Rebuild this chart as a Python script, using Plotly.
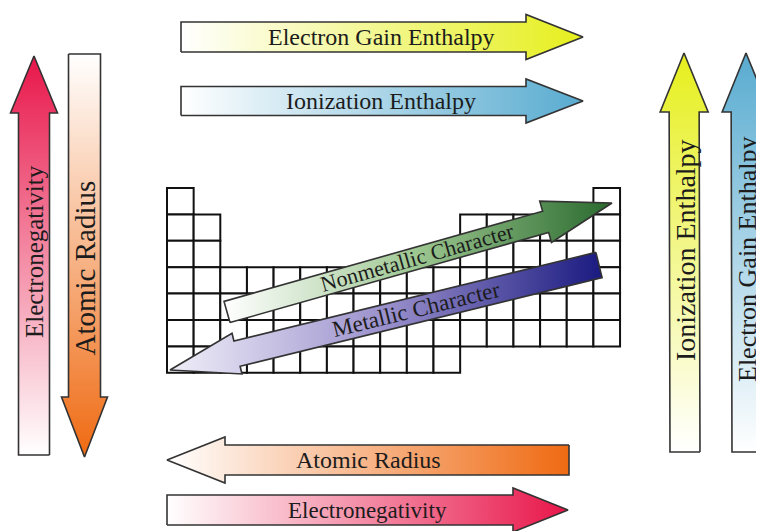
import math
import plotly.graph_objects as go

# ---------------- data ----------------
labels_top = ["Electron Gain Enthalpy", "Ionization Enthalpy"]
labels_left = ["Electronegativity", "Atomic Radius"]
labels_right = ["Ionization Enthalpy", "Electron Gain Enthalpy"]
labels_bottom = ["Atomic Radius", "Electronegativity"]
labels_diag = ["Nonmetallic Character", "Metallic Character"]

# periodic-table outline: filled columns (1-based) for each row
table_rows = [
    [1, 17],
    [1, 2, 12, 13, 14, 15, 16, 17],
    [1, 2, 12, 13, 14, 15, 16, 17],
    list(range(1, 18)),
    list(range(1, 18)),
    list(range(1, 18)),
    list(range(1, 12)),
]

# gradient colours
YELLOW = "#e6ef1c"
BLUE = "#58abd0"
RED = "#e8164a"
ORANGE = "#ef6a12"
GREEN = "#2a6a2e"
NAVY = "#1a1a80"

# ---------------- geometry (pixel space of the window) ----------------
W, H = 764, 531
PAGE = 8  # browser body margin
GX0, GY0, CW, CH = 167, 188, 26.65, 26.4
FONT = "Liberation Serif"
TXT = "#1c1c1c"


def arrow_pts(tail, tip, w, hw, hl):
    x0, y0 = tail
    x1, y1 = tip
    dx, dy = x1 - x0, y1 - y0
    L = math.hypot(dx, dy)
    ux, uy = dx / L, dy / L
    px, py = -uy, ux
    bx, by = x1 - ux * hl, y1 - uy * hl
    pts = [
        (x0 + px * w / 2, y0 + py * w / 2),
        (bx + px * w / 2, by + py * w / 2),
        (bx + px * hw / 2, by + py * hw / 2),
        (x1, y1),
        (bx - px * hw / 2, by - py * hw / 2),
        (bx - px * w / 2, by - py * w / 2),
        (x0 - px * w / 2, y0 - py * w / 2),
    ]
    pts.append(pts[0])
    return [p[0] for p in pts], [p[1] for p in pts]


fig = go.Figure()

# grid cells as shapes
for r, cols in enumerate(table_rows):
    for c in cols:
        fig.add_shape(
            type="rect", xref="x", yref="y",
            x0=GX0 + (c - 1) * CW, x1=GX0 + c * CW,
            y0=GY0 + r * CH, y1=GY0 + (r + 1) * CH,
            line=dict(color="#111111", width=2), fillcolor="white", layer="below",
        )

arrows = [
    # tail, tip, w, hw, hl, gradient type, colorscale
    ((181, 37), (583, 37), 30, 45, 57, "horizontal", [[0, "#ffffff"], [1, YELLOW]]),
    ((181, 101), (583, 101), 29, 44, 57, "horizontal", [[0, "#ffffff"], [1, BLUE]]),
    ((34, 455), (34, 56), 31, 47, 57, "vertical", [[0, "#ffffff"], [1, RED]]),
    ((84.5, 54), (84.5, 457), 32, 46, 60, "vertical", [[0, ORANGE], [1, "#ffffff"]]),
    ((685, 452), (684, 53), 30, 48, 59, "vertical", [[0, "#ffffff"], [1, YELLOW]]),
    ((747, 452), (746, 53), 30, 48, 59, "vertical", [[0, "#ffffff"], [1, BLUE]]),
    ((569, 460), (167, 460), 30, 46, 58, "horizontal", [[0, "#ffffff"], [1, ORANGE]]),
    ((167, 510), (568, 510), 30, 44, 55, "horizontal", [[0, "#ffffff"], [1, RED]]),
    ((227, 312), (612, 203), 22, 43, 69, "horizontal",
     [[0, "#ffffff"], [0.5, "#9cc690"], [1, GREEN]]),
    ((599, 265), (170, 370), 26, 42, 69, "horizontal",
     [[0, "#f0eef8"], [0.5, "#9a90cc"], [1, NAVY]]),
]

for tail, tip, w, hw, hl, gtype, cs in arrows:
    xs, ys = arrow_pts(tail, tip, w, hw, hl)
    fig.add_trace(go.Scatter(
        x=xs, y=ys, mode="lines", fill="toself",
        fillgradient=dict(type=gtype, colorscale=cs),
        line=dict(color="#333333", width=1.6),
        hoverinfo="skip",
    ))

texts = [
    (labels_top[0], 381, 37, 0, 24),
    (labels_top[1], 381, 101, 0, 24),
    (labels_left[0], 34, 252, -90, 25),
    (labels_left[1], 84.5, 268, -90, 29),
    (labels_right[0], 685, 250, -90, 28),
    (labels_right[1], 747, 260, -90, 26),
    (labels_bottom[0], 368, 460, 0, 24),
    (labels_bottom[1], 367, 510, 0, 23),
    (labels_diag[0], 417, 257, -15.8, 22),
    (labels_diag[1], 416, 309, -13.8, 23),
]
for t, x, y, ang, sz in texts:
    fig.add_annotation(
        x=x, y=y, xref="x", yref="y", text=t, showarrow=False,
        textangle=ang, font=dict(family=FONT, size=sz, color=TXT),
    )

fig.update_layout(
    width=W - PAGE, height=H - PAGE, margin=dict(l=0, r=0, t=0, b=0),
    paper_bgcolor="white", plot_bgcolor="white", showlegend=False,
    xaxis=dict(range=[PAGE, W], visible=False, fixedrange=True),
    yaxis=dict(range=[H, PAGE], visible=False, fixedrange=True),
)

fig.write_html("out.html")
